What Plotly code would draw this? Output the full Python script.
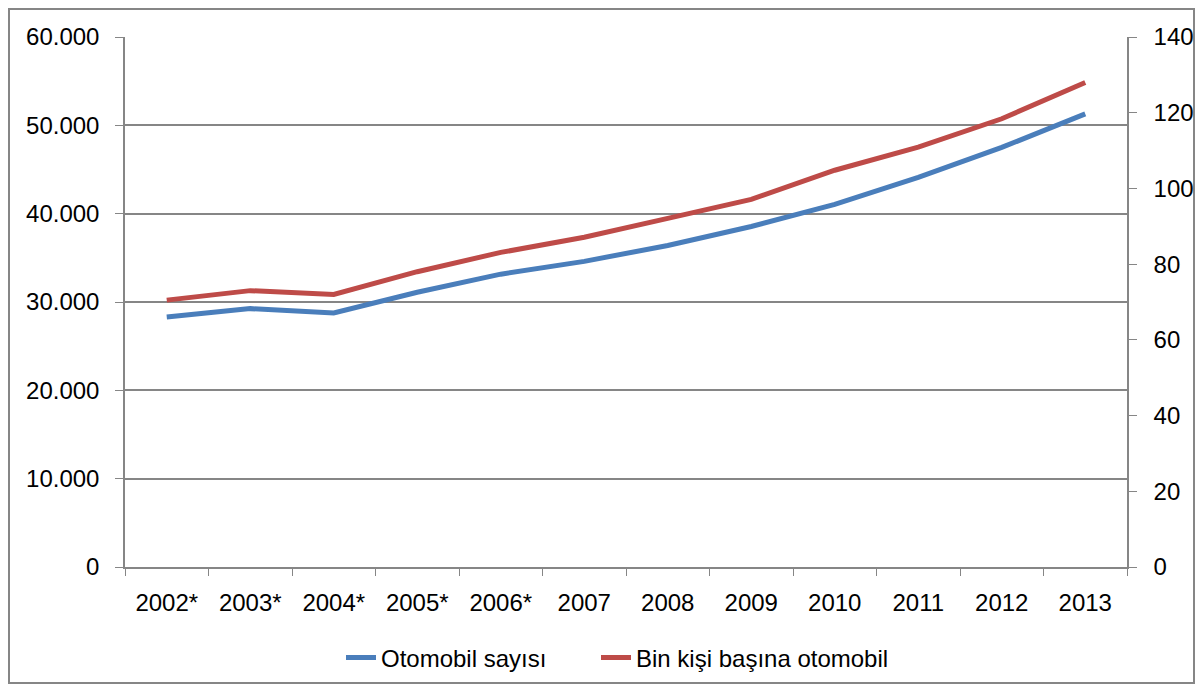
import plotly.graph_objects as go

years = ["2002*", "2003*", "2004*", "2005*", "2006*", "2007", "2008", "2009", "2010", "2011", "2012", "2013"]
otomobil_sayisi = [28300, 29250, 28750, 31100, 33150, 34600, 36400, 38550, 41050, 44100, 47500, 51300]
bin_kisi_basina = [70.5, 73.0, 72.0, 78.0, 83.1, 87.1, 92.1, 97.1, 104.8, 110.9, 118.4, 128.0]

FONT = "Liberation Sans"
GRID = "#868686"

# page body has an 8px offset; figure sized to fit the 1204x693 window
W, H = 1188, 677
L, R, T, B = 117, 69, 29, 118
pw, ph = W - L - R, H - T - B

def px_x(x):  # screen x -> paper
    return (x - 8 - L) / pw

def px_y(y):  # screen y -> paper
    return (H - B - (y - 8)) / ph

fig = go.Figure()
fig.add_trace(go.Scatter(x=years, y=otomobil_sayisi, name="Otomobil sayısı", mode="lines",
                         line=dict(color="#4A7EBB", width=5), yaxis="y", legend="legend"))
fig.add_trace(go.Scatter(x=years, y=bin_kisi_basina, name="Bin kişi başına otomobil", mode="lines",
                         line=dict(color="#BE4B48", width=5), yaxis="y2", legend="legend2"))

leg_common = dict(orientation="h", xanchor="left", y=px_y(658), yanchor="middle",
                  font=dict(family=FONT, size=24), bgcolor="rgba(0,0,0,0)")

fig.update_layout(
    width=W, height=H,
    margin=dict(l=L, r=R, t=T, b=B, autoexpand=False),
    paper_bgcolor="white", plot_bgcolor="white",
    separators=",.",
    font=dict(family=FONT, size=24, color="black"),
    showlegend=True,
    legend=dict(x=px_x(341), **leg_common),
    legend2=dict(x=px_x(596), **leg_common),
    xaxis=dict(type="category", range=[-0.5, 11.5], showgrid=False, showline=True,
               linecolor=GRID, linewidth=1.5, ticks="outside", tickson="boundaries",
               ticklen=7, tickcolor=GRID, ticklabelstandoff=13, zeroline=False),
    yaxis=dict(range=[0, 60000], dtick=10000, tickformat=",d", showgrid=True, gridcolor=GRID,
               gridwidth=1.5, showline=True, linecolor=GRID, linewidth=1.5, ticks="outside",
               ticklen=8, tickcolor=GRID, ticklabelstandoff=11, zeroline=False),
    yaxis2=dict(range=[0, 140], dtick=20, overlaying="y", side="right", showgrid=False,
                showline=True, linecolor=GRID, linewidth=1.5, ticks="outside", ticklen=8,
                tickcolor=GRID, ticklabelstandoff=12, zeroline=False),
    shapes=[dict(type="rect", xref="paper", yref="paper", x0=px_x(9), x1=px_x(1194),
                 y0=px_y(683), y1=px_y(9), line=dict(color=GRID, width=2), layer="below")],
)

fig.write_html("out.html")
